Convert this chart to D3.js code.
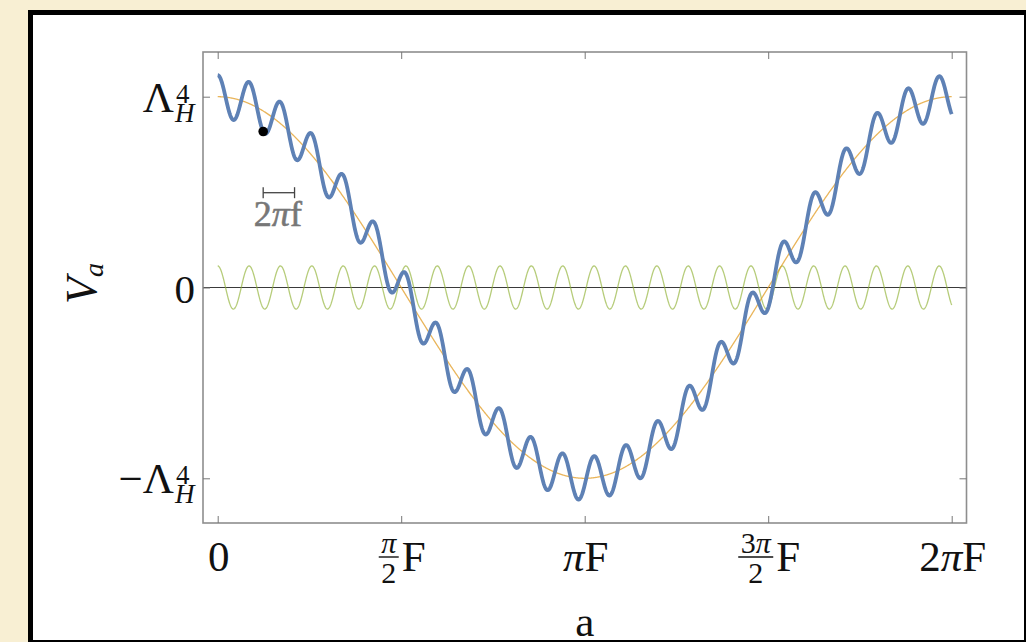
<!DOCTYPE html>
<html>
<head>
<meta charset="utf-8">
<script src="https://cdn.jsdelivr.net/npm/d3@7"></script>
<style>
  html, body { margin: 0; padding: 0; background: #f8efd3; }
  svg { display: block; }
  text { font-family: "Liberation Serif", "Times New Roman", serif; fill: #111; }
</style>
</head>
<body>
<svg id="chart" width="1026" height="642"></svg>
<script>
// potential V_a = Λ_H^4 cos(a/F) + ε cos(a/f), in units of Λ_H^4
const xDomain = [0, 2 * Math.PI];          // a / F
const xTickValues = [0, Math.PI / 2, Math.PI, 3 * Math.PI / 2, 2 * Math.PI];
const xTickLabels = [
  { text: '0' },
  { num: 'π', den: '2', tail: 'F' },
  { pre: '', pi: true, tail: 'F' },
  { num: '3π', den: '2', tail: 'F' },
  { pre: '2', pi: true, tail: 'F' }
];
const yTickValues = [-1, 0, 1];
const bigAmplitude = [1.0];                // Λ_H^4
const smallAmplitude = [0.113];            // wiggle height
const periodRatio = [23.4];                // F / f
const dotPhase = [1.45];                   // marked point, in small periods from a = 0

const svg = d3.select('#chart');

// paper panel with thick black border
svg.append('rect')
  .attr('x', 30.5).attr('y', 12.5)
  .attr('width', 996).attr('height', 630)
  .attr('fill', '#fff')
  .attr('stroke', '#000')
  .attr('stroke-width', 5);

// plot frame geometry
const frame = { left: 203, right: 966.5, top: 52, bottom: 523 };

const x = d3.scaleLinear().domain(xDomain).range([217.7, 951.7]);
const y = d3.scaleLinear().domain([-1, 1]).range([478.3, 96.7]);

// curves
const A = bigAmplitude[0], eps = smallAmplitude[0], r = periodRatio[0];
const samples = d3.range(0, 2001).map(i => xDomain[0] + (xDomain[1] - xDomain[0]) * i / 2000);
const base = samples.map(a => [a, A * Math.cos(a)]);
const wiggle = samples.map(a => [a, eps * Math.cos(a * r)]);
const total = samples.map(a => [a, A * Math.cos(a) + eps * Math.cos(a * r)]);

const line = d3.line().x(d => x(d[0])).y(d => y(d[1]));

// zero axis line
svg.append('line')
  .attr('x1', frame.left).attr('x2', frame.right)
  .attr('y1', y(0)).attr('y2', y(0))
  .attr('stroke', '#3a3a3a').attr('stroke-width', 1.2);

svg.append('path').datum(wiggle)
  .attr('d', line).attr('fill', 'none')
  .attr('stroke', '#8fb032').attr('stroke-opacity', 0.65).attr('stroke-width', 1.3);

svg.append('path').datum(base)
  .attr('d', line).attr('fill', 'none')
  .attr('stroke', '#e19c24').attr('stroke-opacity', 0.75).attr('stroke-width', 1.3);

svg.append('path').datum(total)
  .attr('d', line).attr('fill', 'none')
  .attr('stroke', '#5e81b5').attr('stroke-width', 3.8)
  .attr('stroke-linejoin', 'round');

// frame + inward ticks on all four sides
svg.append('rect')
  .attr('x', frame.left).attr('y', frame.top)
  .attr('width', frame.right - frame.left).attr('height', frame.bottom - frame.top)
  .attr('fill', 'none').attr('stroke', '#8e8e8e').attr('stroke-width', 1.6);

function tickAxis (axis, tx, ty) {
  const g = svg.append('g').attr('transform', `translate(${tx},${ty})`)
    .call(axis.tickSize(-7).tickFormat(''));
  g.select('.domain').remove();
  g.selectAll('.tick line').attr('stroke', '#777').attr('stroke-width', 1);
}
tickAxis(d3.axisBottom(x).tickValues(xTickValues), 0, frame.bottom);
tickAxis(d3.axisTop(x).tickValues(xTickValues), 0, frame.top);
tickAxis(d3.axisLeft(y).tickValues(yTickValues), frame.left, 0);
tickAxis(d3.axisRight(y).tickValues(yTickValues), frame.right, 0);

// x tick labels
const xBase = 571;
xTickLabels.forEach((lab, i) => {
  const g = svg.append('g');
  if (lab.text !== undefined) {
    g.append('text').attr('x', 0).attr('y', xBase)
      .attr('font-size', 43).text(lab.text);
  } else if (lab.num !== undefined) {
    const num = g.append('text').attr('y', 553).attr('font-size', 30).attr('text-anchor', 'middle');
    if (lab.num.length > 1) num.append('tspan').text(lab.num[0]);
    num.append('tspan').attr('font-style', 'italic').text('π');
    const den = g.append('text').attr('y', 583).attr('font-size', 30)
      .attr('text-anchor', 'middle').text(lab.den);
    const w = Math.max(num.node().getBBox().width, den.node().getBBox().width) + 4;
    num.attr('x', w / 2); den.attr('x', w / 2);
    g.append('line').attr('x1', 0).attr('x2', w).attr('y1', 557).attr('y2', 557)
      .attr('stroke', '#111').attr('stroke-width', 1.4);
    g.append('text').attr('x', w + 3).attr('y', xBase).attr('font-size', 43).text(lab.tail);
  } else {
    const t = g.append('text').attr('y', xBase).attr('font-size', 43);
    if (lab.pre) t.append('tspan').text(lab.pre);
    t.append('tspan').attr('font-style', 'italic').text('π');
    t.append('tspan').text(lab.tail);
  }
  const bb = g.node().getBBox();
  g.attr('transform', `translate(${x(xTickValues[i]) - bb.x - bb.width / 2 + 1},0)`);
});

// y tick labels (right aligned at 196)
function lambdaLabel (yy, minus) {
  const g = svg.append('g');
  const t = g.append('text').attr('x', 0).attr('y', yy + 15).attr('font-size', 43);
  t.text((minus ? '\u2212' : '') + 'Λ');
  const w = t.node().getBBox().width;
  g.append('text').attr('x', w + 2).attr('y', yy + 6).attr('font-size', 27).text('4');
  g.append('text').attr('x', w + 1).attr('y', yy + 25).attr('font-size', 27)
    .attr('font-style', 'italic').text('H');
  const bb = g.node().getBBox();
  g.attr('transform', `translate(${196 - bb.x - bb.width},0)`);
}
lambdaLabel(y(1), false);
lambdaLabel(y(-1), true);
svg.append('text').attr('x', 195).attr('y', y(0) + 15)
  .attr('font-size', 41).attr('text-anchor', 'end').text('0');

// axis titles
const yt = svg.append('text').attr('transform', 'translate(96,304) rotate(-90)')
  .attr('font-size', 44);
yt.append('tspan').attr('font-style', 'italic').text('V');
yt.append('tspan').attr('font-style', 'italic').attr('font-size', 28).attr('dy', 7).text('a');

svg.append('text').attr('x', x(Math.PI)).attr('y', 636)
  .attr('font-size', 43).attr('text-anchor', 'middle').text('a');

// marked point and small-period scale bar
const aDot = dotPhase[0] * 2 * Math.PI / r;
svg.append('circle')
  .attr('cx', x(aDot)).attr('cy', y(A * Math.cos(aDot) + eps * Math.cos(aDot * r)))
  .attr('r', 4.8).attr('fill', '#000');

const barY = 192.7;
const bx0 = x(aDot), bx1 = x(aDot + 2 * Math.PI / r);
const bar = svg.append('g').attr('stroke', '#444').attr('stroke-width', 1.3);
bar.append('line').attr('x1', bx0).attr('x2', bx1).attr('y1', barY).attr('y2', barY);
bar.append('line').attr('x1', bx0).attr('x2', bx0).attr('y1', barY - 5.5).attr('y2', barY + 5.5);
bar.append('line').attr('x1', bx1).attr('x2', bx1).attr('y1', barY - 5.5).attr('y2', barY + 5.5);

const pt = svg.append('text').attr('x', (bx0 + bx1) / 2 - 1).attr('y', 226)
  .attr('font-size', 36).attr('text-anchor', 'middle')
  .style('fill', '#777').style('stroke', '#777').style('stroke-width', 0.6);
pt.append('tspan').text('2');
pt.append('tspan').attr('font-style', 'italic').text('π');
pt.append('tspan').text('f');
</script>
</body>
</html>
